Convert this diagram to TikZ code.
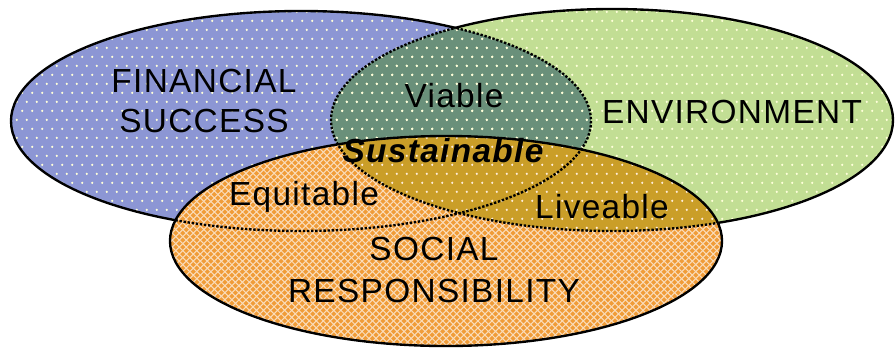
\documentclass[tikz,border=0pt]{standalone}
\usepackage{fontspec}
\setmainfont{Liberation Sans}[LetterSpace=4]
\usetikzlibrary{patterns}

\definecolor{finblue}{RGB}{140,150,212}
\definecolor{envgreen}{RGB}{194,222,148}
\definecolor{viateal}{RGB}{106,144,122}
\definecolor{socorange}{RGB}{240,156,56}
\definecolor{susgold}{RGB}{202,158,40}

% white spots for the top two sets
\pgfdeclarepatternformonly{spots}{\pgfpointorigin}{\pgfpoint{5.7pt}{10.5pt}}{\pgfpoint{5.7pt}{10.5pt}}{%
  \pgfpathcircle{\pgfpoint{1.4pt}{1.3pt}}{0.75pt}%
  \pgfpathcircle{\pgfpoint{4.25pt}{6.55pt}}{0.75pt}%
  \pgfusepath{fill}}
% diamond lattice for the social set
\pgfdeclarepatternformonly{diamonds}{\pgfpoint{-1pt}{-1pt}}{\pgfpoint{5pt}{5pt}}{\pgfpoint{4pt}{4pt}}{%
  \pgfsetlinewidth{0.6pt}%
  \pgfpathmoveto{\pgfpoint{0pt}{0pt}}\pgfpathlineto{\pgfpoint{4pt}{4pt}}%
  \pgfpathmoveto{\pgfpoint{0pt}{4pt}}\pgfpathlineto{\pgfpoint{4pt}{0pt}}%
  \pgfusepath{stroke}}

% the three sets, in pixel units
\newcommand{\finset}{(301,121) ellipse [x radius=290, y radius=110]}
\newcommand{\envset}{(612,120) ellipse [x radius=281, y radius=111]}
\newcommand{\socset}{(446,241) ellipse [x radius=276, y radius=105]}
\newcommand{\outside}{(-20,-20) rectangle (915,370)}

\tikzset{
  setline/.style = {draw=black, line width=1.35pt},% outer edge
  hidline/.style = {draw=black, line width=1.35pt, densely dotted},% edge inside another set
  lbl/.style = {anchor=base, inner sep=0pt, font=\fontsize{19}{22}\selectfont},
  spotted/.style = {pattern=spots, pattern color=white!85!#1}
}

\begin{document}
\begin{tikzpicture}[x=0.02cm, y=-0.02cm]
\useasboundingbox (0,0) rectangle (895,349);
% fills
\fill[finblue] \finset;
\fill[envgreen] \envset;
\begin{scope}
  \clip \finset;
  \fill[viateal] \envset;
\end{scope}
\fill[spotted=yellow] \finset;
\fill[spotted=yellow] \envset;
\fill[socorange] \socset;
\fill[pattern=diamonds, pattern color=socorange!35!white] \socset;
\begin{scope}
  \clip \socset;
  \fill[susgold] \envset;
  \fill[spotted=orange] \envset;
\end{scope}
% edges: solid outside, dotted inside the others
\begin{scope}[even odd rule]
  \clip \outside \envset;
  \clip \outside \socset;
  \draw[setline] \finset;
\end{scope}
\begin{scope}[even odd rule]
  \clip \outside \finset;
  \clip \outside \socset;
  \draw[setline] \envset;
\end{scope}
\begin{scope}
  \clip \envset \socset;
  \draw[hidline] \finset;
\end{scope}
\begin{scope}
  \clip \finset \socset;
  \draw[hidline] \envset;
\end{scope}
\draw[setline] \socset;
% labels
\node[lbl] (fin1) at (204,92) {FINANCIAL};
\node[lbl] (fin2) at (204,132) {SUCCESS};
\node[lbl] (env) at (732,123) {ENVIRONMENT};
\node[lbl] (via) at (454,107) {Viable};
\node[lbl, font=\fontsize{19}{22}\selectfont\bfseries\itshape] (sus) at (443,162) {Sustainable};
\node[lbl] (equ) at (304,205) {Equitable};
\node[lbl] (liv) at (602,218) {Liveable};
\node[lbl] (soc1) at (434,260) {SOCIAL};
\node[lbl] (soc2) at (434,302) {RESPONSIBILITY};
\end{tikzpicture}
\end{document}
